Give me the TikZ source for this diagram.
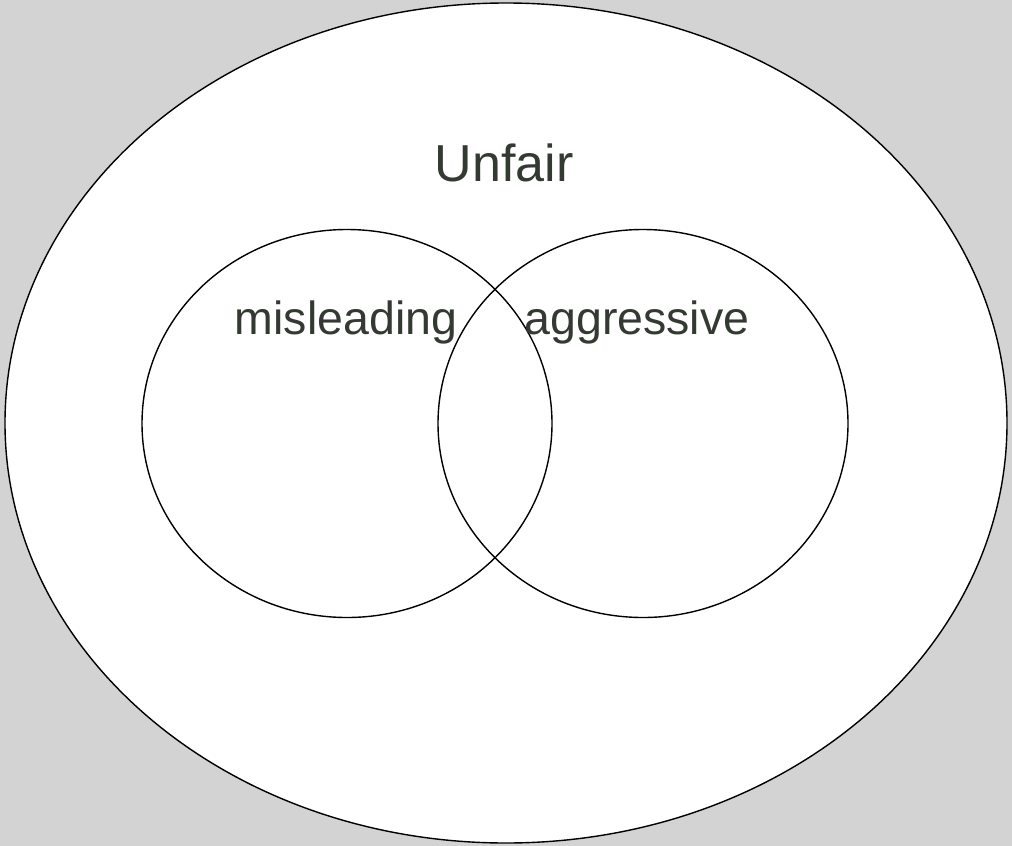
\documentclass[tikz,border=0pt]{standalone}
\usepackage{fontspec}
\setmainfont{Liberation Sans}
\definecolor{bg}{RGB}{211,211,211}
\definecolor{txt}{RGB}{51,58,50}
\begin{document}
\begin{tikzpicture}[x=1pt,y=-1pt,
  set/.style={draw=black,line width=1.4pt},
  big/.style={text=txt,font=\fontsize{52}{62}\selectfont,inner sep=0pt,anchor=base},
  small/.style={text=txt,font=\fontsize{46.5}{56}\selectfont,inner sep=0pt,anchor=base}]
\fill[bg] (0,0) rectangle (1012,846);
\useasboundingbox (0,0) rectangle (1012,846);
\draw[set,fill=white] (506,423) ellipse [x radius=501, y radius=420];
\draw[set] (347,423.5) ellipse [x radius=205, y radius=194];
\draw[set] (643,423.5) ellipse [x radius=205, y radius=194];
\node[big] (unfair) at (504,181) {Unfair};
\node[small] (mis) at (346,334) {misleading};
\node[small] (agg) at (637,334) {aggressive};
\end{tikzpicture}
\end{document}
